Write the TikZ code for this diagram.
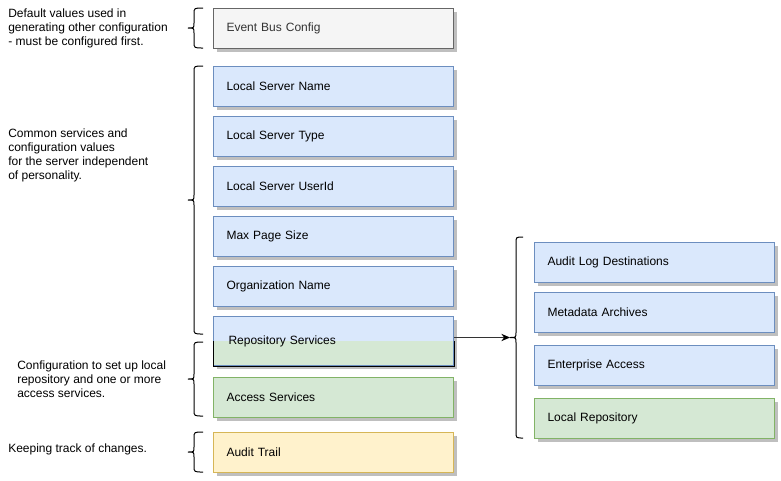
\documentclass[tikz,border=0pt]{standalone}
\usepackage{fontspec}
\setmainfont{Liberation Sans}
\usetikzlibrary{arrows.meta,shadows}

\definecolor{bluefill}{HTML}{DAE8FC}
\definecolor{blueline}{HTML}{6C8EBF}
\definecolor{greenfill}{HTML}{D5E8D4}
\definecolor{greenline}{HTML}{82B366}
\definecolor{yellowfill}{HTML}{FFF2CC}
\definecolor{yellowline}{HTML}{D6B656}
\definecolor{greyfill}{HTML}{F5F5F5}
\definecolor{greyline}{HTML}{666666}

\tikzset{
  configbox/.style={anchor=north west, inner xsep=9.75pt, inner ysep=0pt,
    text width=160.5pt, minimum height=30pt, align=left, line width=0.75pt,
    font=\fontsize{9}{10.5}\selectfont,
    drop shadow={shadow xshift=2.25pt, shadow yshift=-2.25pt, fill=black, opacity=0.25}},
  bluebox/.style={configbox, fill=bluefill, draw=blueline},
  greenbox/.style={configbox, fill=greenfill, draw=greenline},
  note/.style={anchor=west, inner sep=0pt, align=left,
    font=\fontsize{9}{10.5}\selectfont},
  bracket/.style={line width=0.75pt}
}

% curly bracket: name of tip, right x, spine x, top y, bottom y
\newcommand{\curly}[5]{%
  \pgfmathsetmacro\curlymid{(#4+#5)/2}
  \draw[bracket] (#2,#4) .. controls (#3,#4) .. (#3,#4+6) -- (#3,\curlymid-5)
    .. controls (#3,\curlymid) .. (#3-6,\curlymid) coordinate (#1)
    .. controls (#3,\curlymid) .. (#3,\curlymid+5) -- (#3,#5-6)
    .. controls (#3,#5) .. (#2,#5);}

\begin{document}
\begin{tikzpicture}[x=0.75pt,y=-0.75pt]
  \useasboundingbox (0,0) rectangle (781,480);

  % Left column
  \node[configbox, fill=greyfill, draw=greyline, text=black!80] (busconfig) at (213,8) {Event Bus Config};
  \node[bluebox] (servername) at (213,66) {Local Server Name};
  \node[bluebox] (servertype) at (213,116) {Local Server Type};
  \node[bluebox] (serveruser) at (213,166) {Local Server UserId};
  \node[bluebox] (pagesize) at (213,216) {Max Page Size};
  \node[bluebox] (orgname) at (213,266) {Organization Name};
  \node[bluebox, minimum height=36.75pt,
    path picture={\fill[greenfill] (path picture bounding box.west) rectangle (path picture bounding box.south east);}]
    (reposervices) at (213,316) {\hspace*{1.5pt}Repository Services};
  \draw[line width=0.75pt] (reposervices.west) -- (reposervices.south west) -- (reposervices.south east) -- (reposervices.east);
  \node[greenbox] (accessservices) at (213,377) {Access Services};
  \node[configbox, fill=yellowfill, draw=yellowline] (audittrail) at (213,432) {Audit Trail};

  % Right column
  \node[bluebox] (auditlog) at (534,242) {Audit Log Destinations};
  \node[bluebox] (archives) at (534,292) {Metadata Archives};
  \node[bluebox] (enterprise) at (534,345) {Enterprise Access};
  \node[greenbox] (localrepo) at (534,398) {Local Repository};

  % Brackets
  \curly{busbrace}{203}{194}{8}{48}
  \curly{commonbrace}{203}{194}{66}{334}
  \curly{repobrace}{203}{194}{342}{416}
  \curly{auditbrace}{203}{194}{432}{472}
  \curly{servicebrace}{523}{516}{237}{438}

  % Arrow
  \draw[line width=0.75pt, black!80, -{Stealth[length=6.5pt,width=5.5pt,black]}] (reposervices.east |- servicebrace) -- (servicebrace);

  % Notes
  \node[note] (busnote) at (8,28) {Default values used in\\generating other configuration\\- must be configured first.};
  \node[note] (commonnote) at (8,155) {Common services and\\configuration values\\for the server independent\\of personality.};
  \node[note] (reponote) at (17,379) {Configuration to set up local\\repository and one or more\\access services.};
  \node[note] (auditnote) at (8,449) {Keeping track of changes.};
\end{tikzpicture}
\end{document}
